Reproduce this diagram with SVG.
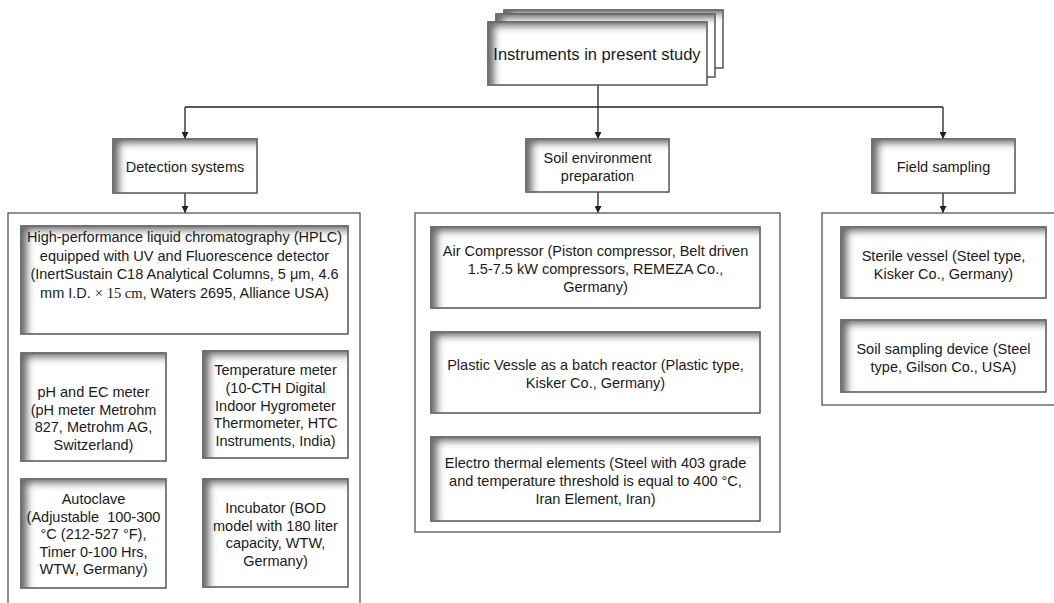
<svg xmlns="http://www.w3.org/2000/svg" width="1054" height="603" viewBox="0 0 1054 603">
<defs>
<style>
.box{fill:#fff;stroke:#4a4a4a;stroke-width:1.4;filter:url(#inset)}
.cont{fill:#fff;stroke:#555;stroke-width:1.3}
.t{font-family:"Liberation Sans",Arial,sans-serif;font-size:14.5px;fill:#1a1a1a;text-anchor:middle;white-space:pre}
.big{font-size:16.5px}
.ser{font-family:"Liberation Serif","Times New Roman",serif}
.ln{fill:none;stroke:#222;stroke-width:1.3}
</style>
<filter id="inset" x="-20%" y="-50%" width="140%" height="200%">
<feFlood flood-color="#6e6e6e"/>
<feComposite in2="SourceAlpha" operator="out"/>
<feGaussianBlur stdDeviation="3.5"/>
<feOffset dx="8" dy="6" result="s"/>
<feComposite in="s" in2="SourceAlpha" operator="in" result="sh"/>
<feMerge><feMergeNode in="SourceGraphic"/><feMergeNode in="sh"/></feMerge>
</filter>
<marker id="arr" viewBox="0 0 10 10" refX="10" refY="5" markerWidth="7" markerHeight="7" markerUnits="userSpaceOnUse" orient="auto">
<path d="M0,0 L10,5 L0,10 Z" fill="#222"/>
</marker>
</defs>
<rect width="1054" height="603" fill="#fff"/>

<g id="connectors">
<path class="ln" d="M598,85 V107"/>
<path class="ln" d="M185,107 H943"/>
<path class="ln" d="M185,107 V139" marker-end="url(#arr)"/>
<path class="ln" d="M598,107 V139" marker-end="url(#arr)"/>
<path class="ln" d="M943,107 V139" marker-end="url(#arr)"/>
<path class="ln" d="M185,193 V213" marker-end="url(#arr)"/>
<path class="ln" d="M598,192 V213" marker-end="url(#arr)"/>
<path class="ln" d="M943,193 V213" marker-end="url(#arr)"/>
</g>

<g id="root">
<rect class="box" x="504" y="10" width="219" height="58"/>
<rect class="box" x="496" y="14" width="219" height="63"/>
<rect class="box" x="488" y="22" width="219" height="63"/>
<text class="t big" x="597" y="60">Instruments in present study</text>
</g>

<g id="detection">
<rect class="box" x="113" y="139" width="144" height="54"/>
<text class="t" x="185" y="172">Detection systems</text>
</g>
<g id="soil-env">
<rect class="box" x="526" y="139" width="143" height="53"/>
<text class="t" x="597.5" y="163">Soil environment</text>
<text class="t" x="597.5" y="181">preparation</text>
</g>
<g id="field">
<rect class="box" x="872" y="139" width="143" height="54"/>
<text class="t" x="943.5" y="172">Field sampling</text>
</g>

<g id="detection-group">
<rect class="cont" x="8" y="213" width="352" height="420"/>
<g id="hplc">
<rect class="box" x="21" y="226" width="327" height="108"/>
<text class="t" x="184.5" y="242">High-performance liquid chromatography (HPLC)</text>
<text class="t" x="184.5" y="261">equipped with UV and Fluorescence detector</text>
<text class="t" x="184.5" y="279">(InertSustain C18 Analytical Columns, 5 μm, 4.6</text>
<text class="t" x="184.5" y="298">mm I.D. <tspan class="ser">× 15 cm</tspan>, Waters 2695, Alliance USA)</text>
</g>
<g id="ph">
<rect class="box" x="21" y="353" width="145" height="108"/>
<text class="t" x="93.5" y="397">pH and EC meter</text>
<text class="t" x="93.5" y="414.5">(pH meter Metrohm</text>
<text class="t" x="93.5" y="432">827, Metrohm AG,</text>
<text class="t" x="93.5" y="449.5">Switzerland)</text>
</g>
<g id="temp">
<rect class="box" x="203" y="351" width="145" height="107"/>
<text class="t" x="275.5" y="375">Temperature meter</text>
<text class="t" x="275.5" y="393">(10-CTH Digital</text>
<text class="t" x="275.5" y="411">Indoor Hygrometer</text>
<text class="t" x="275.5" y="428">Thermometer, HTC</text>
<text class="t" x="275.5" y="446">Instruments, India)</text>
</g>
<g id="autoclave">
<rect class="box" x="21" y="479" width="145" height="109"/>
<text class="t" x="93.5" y="504">Autoclave</text>
<text class="t" x="93.5" y="522">(Adjustable  100-300</text>
<text class="t" x="93.5" y="539">°C (212-527 °F),</text>
<text class="t" x="93.5" y="557">Timer 0-100 Hrs,</text>
<text class="t" x="93.5" y="574">WTW, Germany)</text>
</g>
<g id="incubator">
<rect class="box" x="203" y="479" width="145" height="108"/>
<text class="t" x="275.5" y="513">Incubator (BOD</text>
<text class="t" x="275.5" y="531">model with 180 liter</text>
<text class="t" x="275.5" y="548">capacity, WTW,</text>
<text class="t" x="275.5" y="566">Germany)</text>
</g>
</g>

<g id="soil-group">
<rect class="cont" x="415" y="213" width="365" height="319"/>
<g id="air">
<rect class="box" x="431" y="227" width="329" height="81"/>
<text class="t" x="595.5" y="256">Air Compressor (Piston compressor, Belt driven</text>
<text class="t" x="595.5" y="274">1.5-7.5 kW compressors, REMEZA Co.,</text>
<text class="t" x="595.5" y="292">Germany)</text>
</g>
<g id="plastic">
<rect class="box" x="431" y="332" width="329" height="81"/>
<text class="t" x="595.5" y="370">Plastic Vessle as a batch reactor (Plastic type,</text>
<text class="t" x="595.5" y="388">Kisker Co., Germany)</text>
</g>
<g id="electro">
<rect class="box" x="431" y="437" width="329" height="84"/>
<text class="t" x="595.5" y="468">Electro thermal elements (Steel with 403 grade</text>
<text class="t" x="595.5" y="486">and temperature threshold is equal to 400 °C,</text>
<text class="t" x="595.5" y="504">Iran Element, Iran)</text>
</g>
</g>

<g id="field-group">
<rect class="cont" x="822" y="213" width="260" height="192"/>
<g id="sterile">
<rect class="box" x="841" y="227" width="205" height="71"/>
<text class="t" x="943.5" y="261">Sterile vessel (Steel type,</text>
<text class="t" x="943.5" y="279">Kisker Co., Germany)</text>
</g>
<g id="sampler">
<rect class="box" x="841" y="320" width="205" height="72"/>
<text class="t" x="943.5" y="354">Soil sampling device (Steel</text>
<text class="t" x="943.5" y="372">type, Gilson Co., USA)</text>
</g>
</g>
</svg>
